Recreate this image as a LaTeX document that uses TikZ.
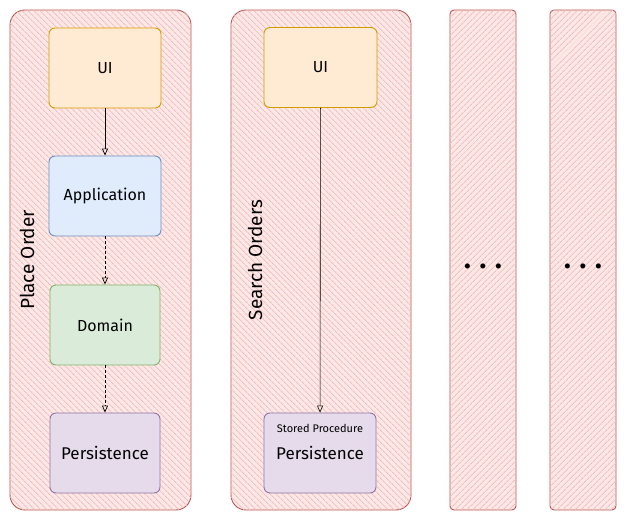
\documentclass[tikz,border=0pt]{standalone}
\usepackage{fontspec}
\setmainfont{Fira Sans}
\usetikzlibrary{arrows.meta,patterns.meta}

\definecolor{lanedraw}{HTML}{B85450}
\definecolor{lanefill}{HTML}{F5BDBB}
\definecolor{uidraw}{HTML}{D79B00}
\definecolor{uifill}{HTML}{FFE6CC}
\definecolor{appdraw}{HTML}{6C8EBF}
\definecolor{appfill}{HTML}{DAE8FC}
\definecolor{domdraw}{HTML}{82B366}
\definecolor{domfill}{HTML}{D5E8D4}
\definecolor{perdraw}{HTML}{9673A6}
\definecolor{perfill}{HTML}{E1D5E7}

\begin{document}
\begin{tikzpicture}[x=1pt,y=-1pt,
  lane/.style={draw=lanedraw,line width=0.9pt,fill=lanefill!35!white,
    postaction={pattern={Lines[angle=#1,distance=4pt,line width=0.9pt]},pattern color=lanefill}},
  layer/.style={draw=#1draw,line width=0.9pt,fill=#1fill!85!white,rounded corners=6pt,
    minimum width=112pt,minimum height=80pt,inner sep=2pt,font=\fontsize{16}{18}\selectfont},
  lanetitle/.style={rotate=90,font=\fontsize{19}{21}\selectfont},
  more/.style={font=\bfseries\fontsize{28}{28}\selectfont},
  link/.style={-{Triangle[open,length=7pt,width=6pt]},line width=0.7pt}]
\useasboundingbox (0,0) rectangle (627,521);

% lanes
\path[lane=-45,rounded corners=15pt] (10,10) rectangle (191,510);
\path[lane=-45,rounded corners=15pt] (231,10) rectangle (411,510);
\path[lane=45,rounded corners=4pt] (450,10) rectangle (516,510);
\path[lane=45,rounded corners=4pt] (550,10) rectangle (616,510);

\node[lanetitle] (place) at (27,260) {Place Order};
\node[lanetitle] (search) at (255,260) {Search Orders};

% place order
\node[layer=ui] (ui1) at (105,68) {UI};
\node[layer=app] (app) at (105,196) {Application};
\node[layer=dom,minimum width=110pt] (dom) at (105,325) {Domain};
\node[layer=per,minimum width=110pt,font=\fontsize{17}{19}\selectfont] (per1) at (105,453) {Persistence};
\draw[link] (ui1) -- (app);
\draw[link,densely dashed] (app) -- (dom);
\draw[link,densely dashed] (dom) -- (per1);

% search orders
\node[layer=ui,minimum width=113pt] (ui2) at (320.5,67.5) {UI};
\node[layer=per,font=\fontsize{17}{19}\selectfont] (per2) at (320,453) {Persistence};
\node[font=\fontsize{11}{13}\selectfont] (sp) at (320,428) {Stored Procedure};
\draw[link,line width=0.6pt] (ui2) -- (per2);

\node[more] (more1) at (483,266) {. . .};
\node[more] (more2) at (583,266) {. . .};
\end{tikzpicture}
\end{document}
